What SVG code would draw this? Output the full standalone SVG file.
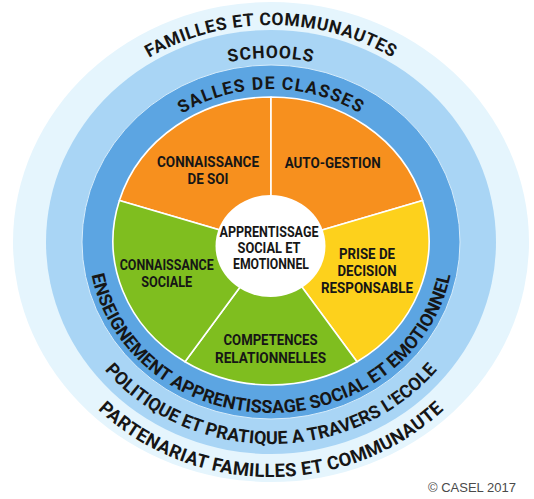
<svg xmlns="http://www.w3.org/2000/svg" width="534" height="499" viewBox="0 0 534 499">
<style>
.arc{font-family:Roboto,"Liberation Sans",sans-serif;font-weight:700;fill:#161616}
.lbl{font-family:Roboto,"Liberation Sans",sans-serif;font-weight:700;font-size:14px;fill:#161616;text-anchor:middle}
.slice{stroke:#ffffff;stroke-width:1.6;stroke-linejoin:round}
.orange{fill:#F7901E}
.yellow{fill:#FDD11C}
.green{fill:#7FBE1F}
</style>
<defs>
<path id="pTop" d="M 40,242 A 231 217 0 0 1 502,242"/>
<path id="pSchools" d="M 75,242 A 196 184 0 0 1 467,242"/>
<path id="pSalles" d="M 107,242 A 164 153 0 0 1 435,242"/>
<path id="pEns" d="M 88,242 A 183 171 0 0 0 454,242"/>
<path id="pPol" d="M 56,242 A 215 202 0 0 0 486,242"/>
<path id="pPart" d="M 24,242 A 247 235 0 0 0 518,242"/>
</defs>
<rect width="534" height="499" fill="#ffffff"/>
<g id="ring-familles">
<ellipse cx="271" cy="242" rx="258" ry="240" fill="#E5F5FD"/>
<text class="arc" font-size="17.5" letter-spacing="0.6"><textPath href="#pTop" startOffset="50%" text-anchor="middle">FAMILLES ET COMMUNAUTES</textPath></text>
<text class="arc" font-size="18.5" letter-spacing="0.3"><textPath href="#pPart" startOffset="50%" text-anchor="middle">PARTENARIAT FAMILLES ET COMMUNAUTE</textPath></text>
</g>
<g id="ring-schools">
<ellipse cx="271" cy="242" rx="225" ry="212" fill="#A9D5F5"/>
<text class="arc" font-size="17.5" letter-spacing="0.9"><textPath href="#pSchools" startOffset="50%" text-anchor="middle">SCHOOLS</textPath></text>
<text class="arc" font-size="18"><textPath href="#pPol" startOffset="50%" text-anchor="middle">POLITIQUE ET PRATIQUE A TRAVERS L'ECOLE</textPath></text>
</g>
<g id="ring-classes">
<ellipse cx="271" cy="242" rx="189" ry="177" fill="#5CA5E2" stroke="#D6ECFB" stroke-width="1"/>
<text class="arc" font-size="17.5" letter-spacing="1.2"><textPath href="#pSalles" startOffset="50%" text-anchor="middle">SALLES DE CLASSES</textPath></text>
<text class="arc" font-size="18"><textPath href="#pEns" startOffset="50%" text-anchor="middle">ENSEIGNEMENT APPRENTISSAGE SOCIAL ET EMOTIONNEL</textPath></text>
</g>
<g id="slice-connaissance-soi">
<path class="slice orange" d="M 271,245 L 271,97 A 158 144 0 0 0 119.4,200.5 Z"/>
<text class="lbl" x="208" y="167" textLength="102" lengthAdjust="spacingAndGlyphs">CONNAISSANCE</text>
<text class="lbl" x="208" y="184" textLength="41" lengthAdjust="spacingAndGlyphs">DE SOI</text>
</g>
<g id="slice-auto-gestion">
<path class="slice orange" d="M 271,245 L 271,97 A 158 144 0 0 1 422.6,200.5 Z"/>
<text class="lbl" x="332.7" y="168" textLength="96" lengthAdjust="spacingAndGlyphs">AUTO-GESTION</text>
</g>
<g id="slice-prise-decision">
<path class="slice yellow" d="M 271,245 L 422.6,200.5 A 158 144 0 0 1 357,361.8 Z"/>
<text class="lbl" x="367" y="259" textLength="56" lengthAdjust="spacingAndGlyphs">PRISE DE</text>
<text class="lbl" x="367" y="276" textLength="59" lengthAdjust="spacingAndGlyphs">DECISION</text>
<text class="lbl" x="367" y="293" textLength="92" lengthAdjust="spacingAndGlyphs">RESPONSABLE</text>
</g>
<g id="slice-competences">
<path class="slice green" d="M 271,245 L 357,361.8 A 158 144 0 0 1 185,361.8 Z"/>
<text class="lbl" x="270.5" y="345" textLength="94" lengthAdjust="spacingAndGlyphs">COMPETENCES</text>
<text class="lbl" x="270.5" y="362.5" textLength="111" lengthAdjust="spacingAndGlyphs">RELATIONNELLES</text>
</g>
<g id="slice-connaissance-sociale">
<path class="slice green" d="M 271,245 L 185,361.8 A 158 144 0 0 1 119.4,200.5 Z"/>
<text class="lbl" x="166.7" y="270" textLength="94" lengthAdjust="spacingAndGlyphs">CONNAISSANCE</text>
<text class="lbl" x="166.7" y="286.5" textLength="51" lengthAdjust="spacingAndGlyphs">SOCIALE</text>
</g>
<g id="center">
<ellipse cx="270.5" cy="246" rx="55" ry="51" fill="#ffffff"/>
<text class="lbl" x="269" y="237.3" textLength="99" lengthAdjust="spacingAndGlyphs">APPRENTISSAGE</text>
<text class="lbl" x="269" y="253.3" textLength="63" lengthAdjust="spacingAndGlyphs">SOCIAL ET</text>
<text class="lbl" x="271" y="269" textLength="76" lengthAdjust="spacingAndGlyphs">EMOTIONNEL</text>
</g>
<text x="428" y="492" font-family="'Liberation Sans',Arial,sans-serif" font-size="13" fill="#4a4a4a">© CASEL 2017</text>
</svg>
